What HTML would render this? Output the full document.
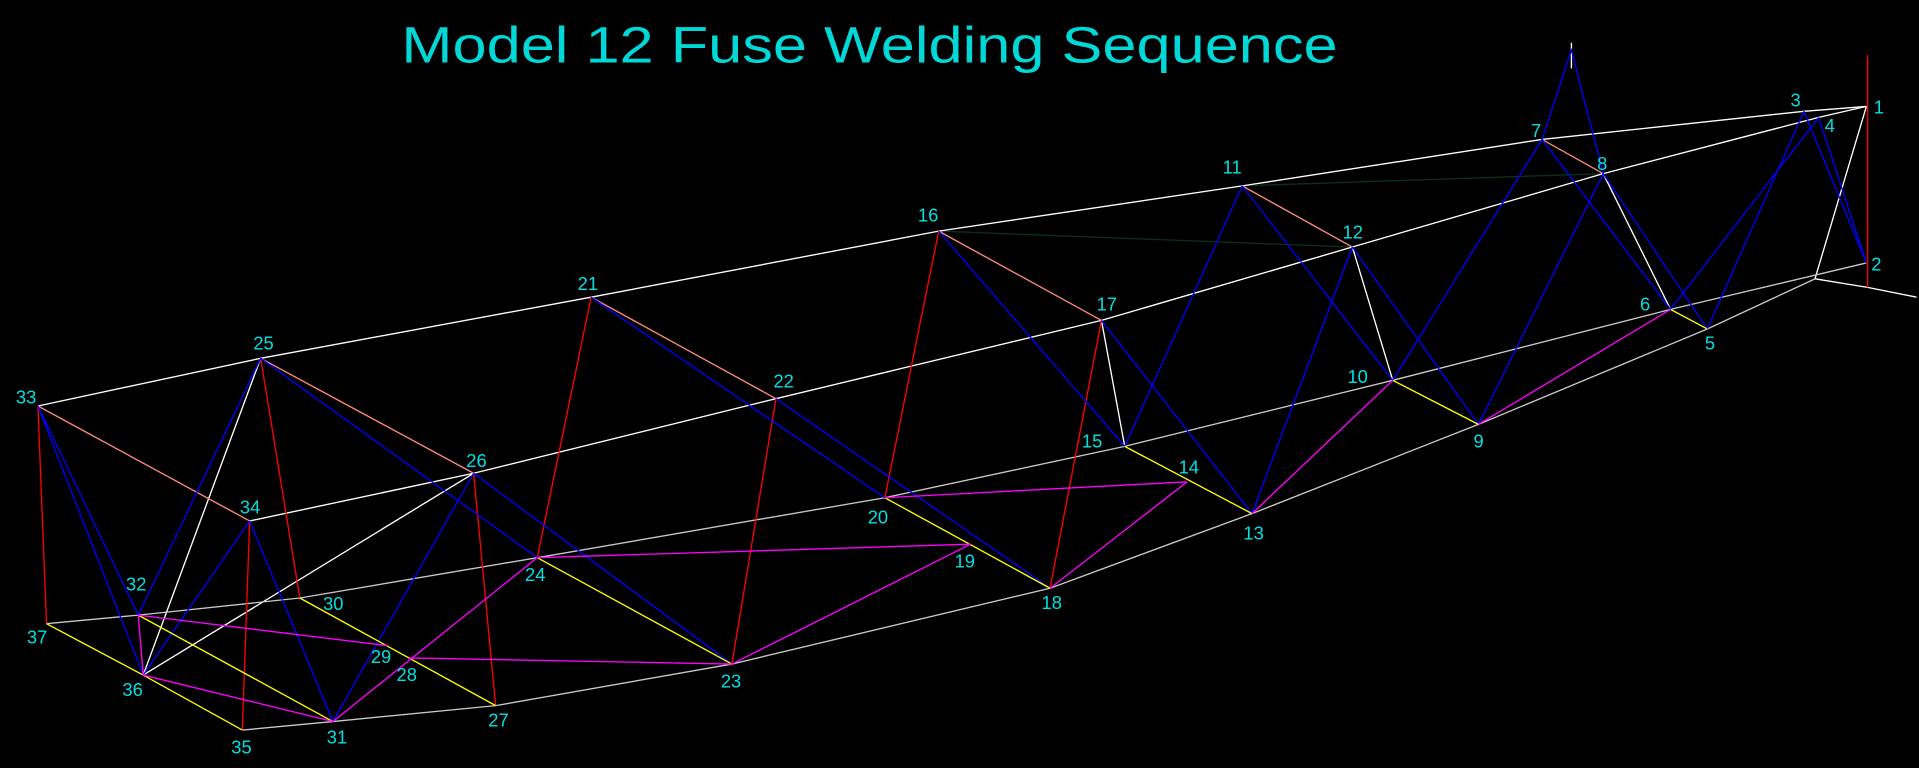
<!DOCTYPE html>
<html><head><style>html,body{margin:0;padding:0;background:#000;overflow:hidden}svg{display:block}</style></head>
<body>
<svg width="1919" height="768" viewBox="0 0 1568 628" preserveAspectRatio="none" xmlns="http://www.w3.org/2000/svg">
<rect width="1568" height="628" fill="#000"/>
<g fill="none" stroke-width="1.1">
<!-- dark green -->
<g stroke="#0a3018"><path d="M767 189L1105 202M1015 152L1310 142"/></g>
<!-- white longerons -->
<g stroke="#ffffff">
<path d="M31 332L213 293L483 243L767 189L1015 152L1260 114L1474 91L1525 87"/>
<path d="M204 426L387 387L634 326L900 262L1105 202L1310 142L1486 96L1525 87"/>
<path d="M213 293L117 552M387 387L117 552M900 262L919 365M1105 202L1138 311M1310 142L1365 253"/>
<path d="M1483 228L1525 87M1483 228L1526 235L1566 243M1284 35L1284 56"/>
</g>
<g stroke="#c8c8c8">
<path d="M38 510L113 503L245 489L439 456L723 407L919 365L1138 311L1365 253L1525 215"/>
<path d="M198 597L272 590L405 577L598 543L858 481L1023 420L1208 347L1395 269L1483 228"/>
</g>
<!-- red -->
<g stroke="#ff0000">
<path d="M31 332L38 510M213 293L245 489M204 426L198 597M387 387L405 577M483 243L439 456M634 326L598 543M767 189L723 407M900 262L858 481M1526 45L1526 235"/>
</g>
<!-- salmon -->
<g stroke="#ff8a7a">
<path d="M31 332L204 426M213 293L387 387M483 243L634 326M767 189L900 262M1015 152L1105 202M1260 114L1310 142"/>
</g>
<!-- blue -->
<g stroke="#0000ff">
<path d="M31 332L113 503M31 332L117 552M213 293L113 503M213 293L439 456M204 426L117 552M204 426L272 590M387 387L272 590M387 387L598 543"/>
<path d="M483 243L723 407M634 326L858 481M767 189L919 365M900 262L1023 420M1015 152L919 365M1015 152L1138 311M1105 202L1023 420M1105 202L1208 347"/>
<path d="M1138 311L1260 114M1208 347L1310 142M1260 114L1365 253M1310 142L1395 269M1260 114L1284 41L1310 142"/>
<path d="M1365 253L1486 96M1395 269L1474 91M1474 91L1525 215M1486 96L1525 215"/>
</g>
<!-- yellow -->
<g stroke="#ffff00">
<path d="M38 510L117 552L198 597M113 503L272 590M245 489L405 577M439 456L598 543M723 407L858 481M919 365L1023 420M1138 311L1208 347M1365 253L1395 269"/>
</g>
<!-- magenta -->
<g stroke="#ff00ff">
<path d="M113 503L117 552M113 503L317 528M117 552L272 590M272 590L439 456M334 538L598 543M439 456L793 445M598 543L793 445M723 407L970 394M858 481L970 394M1023 420L1138 311M1208 347L1365 253"/>
</g>
</g>
<text x="328" y="51" fill="#00d8d8" font-family="Liberation Sans, sans-serif" font-size="42" textLength="765" lengthAdjust="spacingAndGlyphs">Model 12 Fuse Welding Sequence</text>
<g fill="#00e0e0" font-family="Liberation Sans, sans-serif" font-size="15">
<text x="1531" y="93">1</text><text x="1529" y="221">2</text><text x="1463" y="87">3</text><text x="1491" y="108">4</text>
<text x="1393" y="286">5</text><text x="1340" y="254">6</text><text x="1251" y="112">7</text><text x="1305" y="139">8</text>
<text x="1204" y="366">9</text><text x="1101" y="313">10</text><text x="999" y="142">11</text><text x="1097" y="195">12</text>
<text x="1016" y="441">13</text><text x="963" y="387">14</text><text x="884" y="366">15</text><text x="750" y="181">16</text>
<text x="896" y="254">17</text><text x="851" y="498">18</text><text x="780" y="464">19</text><text x="709" y="428">20</text>
<text x="472" y="237">21</text><text x="632" y="317">22</text><text x="589" y="562">23</text><text x="429" y="475">24</text>
<text x="207" y="286">25</text><text x="381" y="382">26</text><text x="399" y="594">27</text><text x="324" y="557">28</text>
<text x="303" y="542">29</text><text x="264" y="499">30</text><text x="267" y="608">31</text><text x="103" y="483">32</text>
<text x="13" y="330">33</text><text x="196" y="420">34</text><text x="189" y="616">35</text><text x="100" y="569">36</text><text x="22" y="526">37</text>
</g>
</svg>
</body></html>
